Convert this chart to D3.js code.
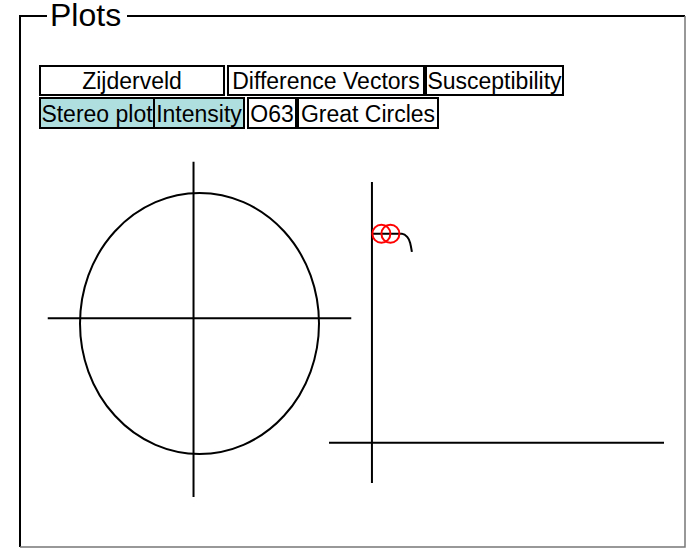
<!DOCTYPE html>
<html lang="en">
<head>
<meta charset="UTF-8">
<script src="https://d3js.org/d3.v7.min.js"></script>
<title>Plots</title>
<style>
  body { margin: 0; background: #fff; }
  svg { display: block; font-family: "Liberation Sans", Arial, sans-serif; }
</style>
</head>
<body>
<div id="chart"></div>
<script>
// tab labels
var row1 = ["Zijderveld", "Difference Vectors", "Susceptibility"];
var row2 = ["Stereo plot", "Intensity", "O63", "Great Circles"];
var activeTabs = ["Stereo plot", "Intensity"];

// stereo plot axes (unit circle, lines run a bit past it)
var stereoAxisX = [-1.27, 1.27];
var stereoAxisY = [-1.33, 1.24];
var stereoCross = [-0.05, 0.04];

// zijderveld plot: demagnetisation path and marked points
var zijX = [-0.02, 0.70, 0.82, 0.89, 0.93];
var zijY = [5.21, 5.21, 5.13, 4.98, 4.76];
var markX = [0.22, 0.43];
var markY = [5.21, 5.21];
var zijAxisX = [-1.0, 6.8];
var zijAxisY = [-1.0, 6.5];

var W = 686, H = 549;
var svg = d3.select("#chart").append("svg").attr("width", W).attr("height", H);

// frame like a fieldset
svg.append("path")
  .attr("d", "M20,547 L20,16 L47,16 M127,16 L685,16")
  .attr("fill", "none").attr("stroke", "#000").attr("stroke-width", 2);
svg.append("path")
  .attr("d", "M685,16 L685,547 L20,547")
  .attr("fill", "none").attr("stroke", "#777").attr("stroke-width", 1.5);
svg.append("text").attr("x", 50).attr("y", 26)
  .attr("font-size", 32).text("Plots");

// tabs
var tabLayout = [
  {y: 66, h: 29, x: [40, 228, 426], w: [184, 196, 137]},
  {y: 98, h: 30, x: [40, 154, 248, 298], w: [114, 90, 48, 140]}
];
[row1, row2].forEach(function(row, r) {
  var L = tabLayout[r];
  var g = svg.selectAll(".tab" + r).data(row).enter().append("g")
    .attr("transform", function(d, i) { return "translate(" + L.x[i] + "," + L.y + ")"; });
  g.append("rect")
    .attr("width", function(d, i) { return L.w[i]; })
    .attr("height", L.h)
    .attr("fill", function(d) { return activeTabs.indexOf(d) >= 0 ? "#b0dfe0" : "#fff"; })
    .attr("stroke", "#000").attr("stroke-width", 2);
  g.append("text")
    .attr("x", function(d, i) { return L.w[i] / 2; })
    .attr("y", L.h - 6)
    .attr("text-anchor", "middle")
    .attr("font-size", 23)
    .text(function(d) { return d; });
});

// stereo plot
var sx = d3.scaleLinear().domain([-1, 1]).range([80, 319]);
var sy = d3.scaleLinear().domain([-1, 1]).range([454, 193]);
var stereo = svg.append("g");
stereo.append("ellipse")
  .attr("cx", sx(0)).attr("cy", sy(0))
  .attr("rx", sx(1) - sx(0)).attr("ry", sy(0) - sy(1))
  .attr("fill", "none").attr("stroke", "#000").attr("stroke-width", 2);
stereo.append("line")
  .attr("x1", sx(stereoAxisX[0])).attr("x2", sx(stereoAxisX[1]))
  .attr("y1", sy(stereoCross[1])).attr("y2", sy(stereoCross[1]))
  .attr("stroke", "#000").attr("stroke-width", 2);
stereo.append("line")
  .attr("x1", sx(stereoCross[0])).attr("x2", sx(stereoCross[0]))
  .attr("y1", sy(stereoAxisY[0])).attr("y2", sy(stereoAxisY[1]))
  .attr("stroke", "#000").attr("stroke-width", 2);

// zijderveld plot
var zx = d3.scaleLinear().domain(zijAxisX).range([329, 664]);
var zy = d3.scaleLinear().domain(zijAxisY).range([483, 182]);
var zij = svg.append("g");
zij.append("line")
  .attr("x1", zx(zijAxisX[0])).attr("x2", zx(zijAxisX[1]))
  .attr("y1", zy(0)).attr("y2", zy(0))
  .attr("stroke", "#000").attr("stroke-width", 2);
zij.append("line")
  .attr("x1", zx(0)).attr("x2", zx(0))
  .attr("y1", zy(zijAxisY[0])).attr("y2", zy(zijAxisY[1]))
  .attr("stroke", "#000").attr("stroke-width", 2);

var pts = zijX.map(function(v, i) { return [v, zijY[i]]; });
zij.append("path")
  .datum(pts)
  .attr("d", d3.line().x(function(d) { return zx(d[0]); }).y(function(d) { return zy(d[1]); })
    .curve(d3.curveMonotoneX))
  .attr("fill", "none").attr("stroke", "#000").attr("stroke-width", 2);

zij.selectAll(".mark").data(markX).enter().append("circle")
  .attr("cx", function(d) { return zx(d); })
  .attr("cy", function(d, i) { return zy(markY[i]); })
  .attr("r", 9)
  .attr("fill", "none").attr("stroke", "red").attr("stroke-width", 2);
</script>
</body>
</html>
